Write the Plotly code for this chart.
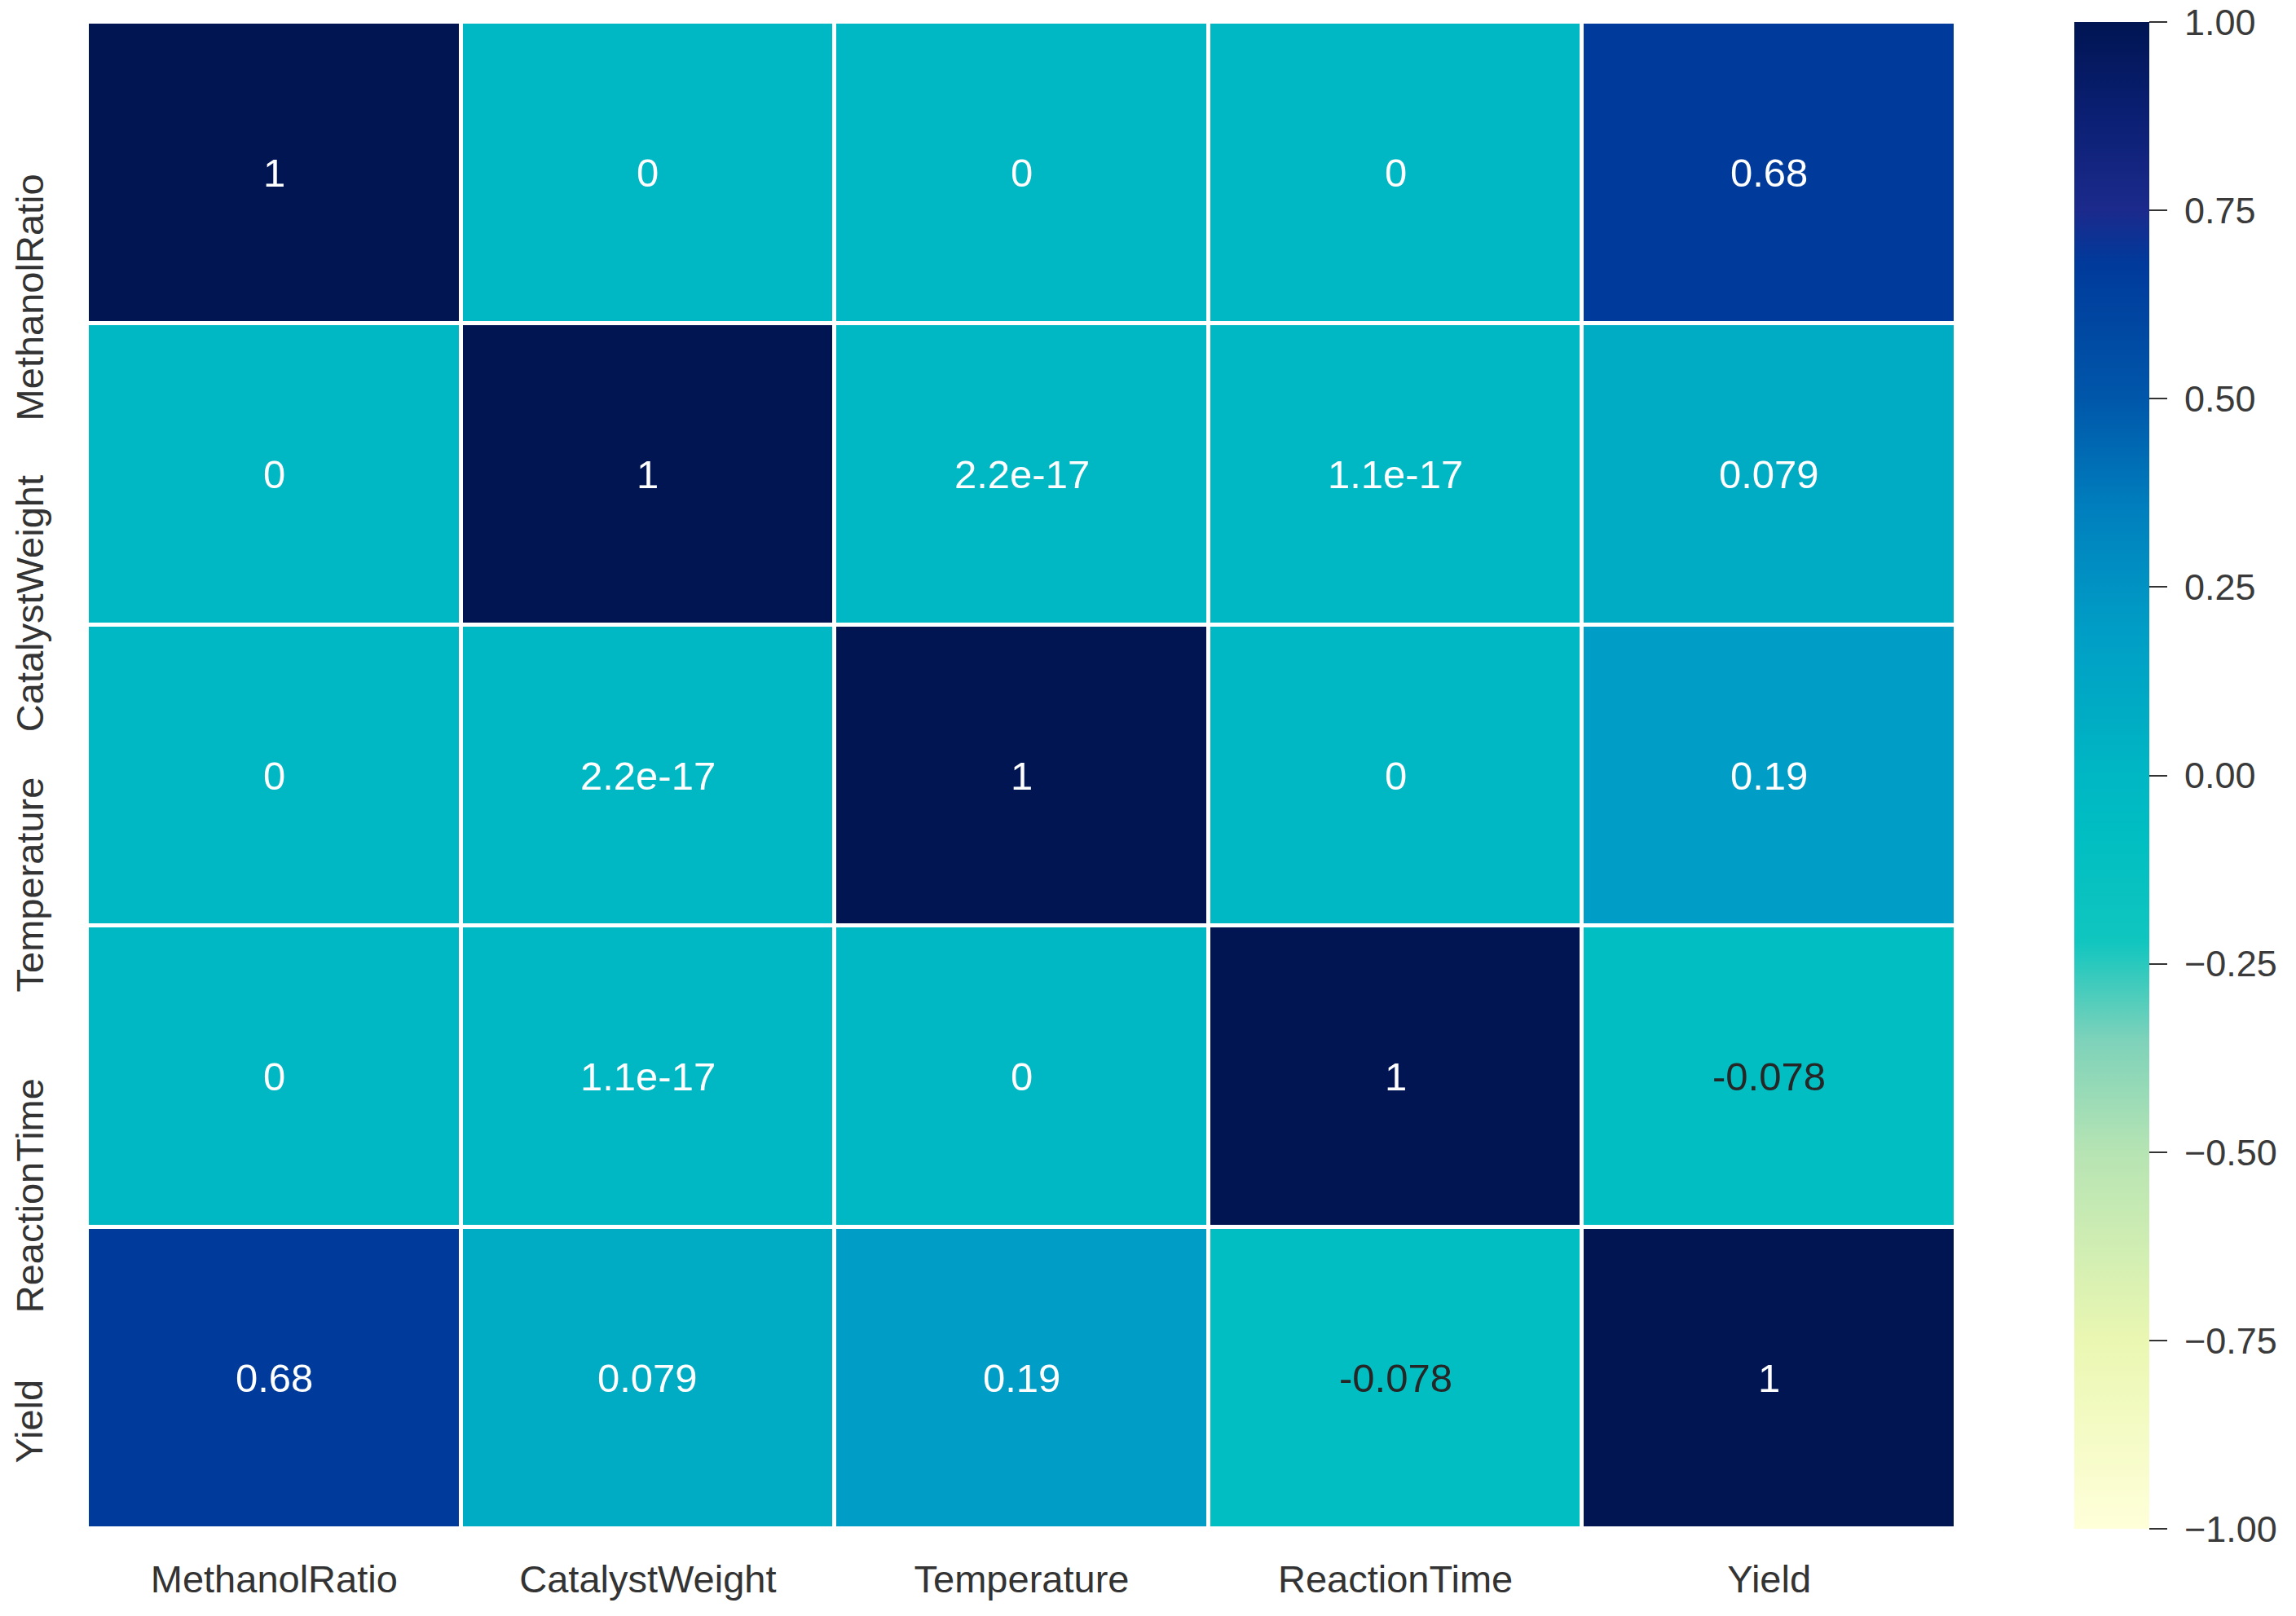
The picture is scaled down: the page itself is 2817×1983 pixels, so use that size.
import plotly.graph_objects as go

labels = ["MethanolRatio", "CatalystWeight", "Temperature", "ReactionTime", "Yield"]

row_methanol = [1.0, 0.0, 0.0, 0.0, 0.68]
row_catalyst = [0.0, 1.0, 2.2e-17, 1.1e-17, 0.079]
row_temperature = [0.0, 2.2e-17, 1.0, 0.0, 0.19]
row_reaction = [0.0, 1.1e-17, 0.0, 1.0, -0.078]
row_yield = [0.68, 0.079, 0.19, -0.078, 1.0]

corr = [row_methanol, row_catalyst, row_temperature, row_reaction, row_yield]

cbar_vals = [-1.0, -0.75, -0.5, -0.25, 0.0, 0.25, 0.5, 0.75, 1.0]
cbar_text = ["\u22121.00", "\u22120.75", "\u22120.50", "\u22120.25", "0.00", "0.25", "0.50", "0.75", "1.00"]

# colour stops (value in -1..1, colour)
stops = [
    (-1.00, "#FFFFD9"),
    (-0.75, "#EAF7B2"),
    (-0.50, "#B6E4B3"),
    (-0.35, "#7DD2BA"),
    (-0.22, "#10C6BF"),
    (-0.08, "#00BEC2"),
    (0.00, "#00B7C4"),
    (0.08, "#00ACC4"),
    (0.19, "#009EC6"),
    (0.35, "#0080BE"),
    (0.50, "#0057AA"),
    (0.68, "#003A9B"),
    (0.75, "#1B2A8C"),
    (0.88, "#0A1F72"),
    (1.00, "#001552"),
]
colorscale = [[(v + 1) / 2, c] for v, c in stops]

font_family = "Liberation Sans, Arial, sans-serif"

W, H = 2817, 1983
ML, MR, MT, MB = 99, 425, 19, 115
plot_w = W - ML - MR
plot_h = H - MT - MB
cbar_left_px = 2537
CB_PAD = 10
n = len(labels)

fig = go.Figure()
fig.add_trace(go.Heatmap(
    z=corr, x=labels, y=labels,
    zmin=-1, zmax=1,
    colorscale=colorscale,
    xgap=5, ygap=5,
    showscale=True,
    hoverinfo="skip",
    colorbar=dict(
        x=(cbar_left_px - ML) / plot_w, xanchor="left", xref="paper", xpad=0,
        y=0.5, yanchor="middle", lenmode="pixels", len=plot_h + 2 * CB_PAD, ypad=CB_PAD,
        thickness=92, thicknessmode="pixels",
        outlinewidth=0,
        ticks="outside", ticklen=22, tickwidth=2, tickcolor="#333333",
        tickvals=cbar_vals, ticktext=["\u00a0" + t for t in cbar_text],
        ticklabeloverflow="allow",
        tickfont=dict(family=font_family, size=45, color="#3a3a3a"),
    ),
))

for i, rlab in enumerate(labels):
    for j, clab in enumerate(labels):
        v = corr[i][j]
        txt = format(v, ".2g")
        col = "#262626" if v < -0.05 else "white"
        fig.add_annotation(
            x=clab, y=rlab, text=txt, showarrow=False,
            font=dict(family=font_family, size=49, color=col),
        )

# y tick labels: rotated, with their upper end at the row centre (as in the reference)
for rlab in labels:
    fig.add_annotation(
        x=0, xref="paper", y=rlab, yref="y",
        text=rlab, showarrow=False, textangle=-90,
        xanchor="center", yanchor="top", xshift=28 - ML,
        font=dict(family=font_family, size=47, color="#333333"),
    )

fig.update_layout(
    width=W, height=H,
    margin=dict(l=ML, r=MR, t=MT, b=MB, autoexpand=False),
    paper_bgcolor="white", plot_bgcolor="white",
    font=dict(family=font_family, color="#333333"),
)
fig.update_xaxes(
    showgrid=False, zeroline=False, showline=False,
    range=[-0.5, n - 0.5], autorange=False,
    ticks="", ticklabelstandoff=30,
    tickfont=dict(family=font_family, size=47, color="#333333"),
)
fig.update_yaxes(
    showgrid=False, zeroline=False, showline=False,
    range=[n - 0.5, -0.5], autorange=False,
    ticks="", showticklabels=False,
)

fig.write_html("out.html")
